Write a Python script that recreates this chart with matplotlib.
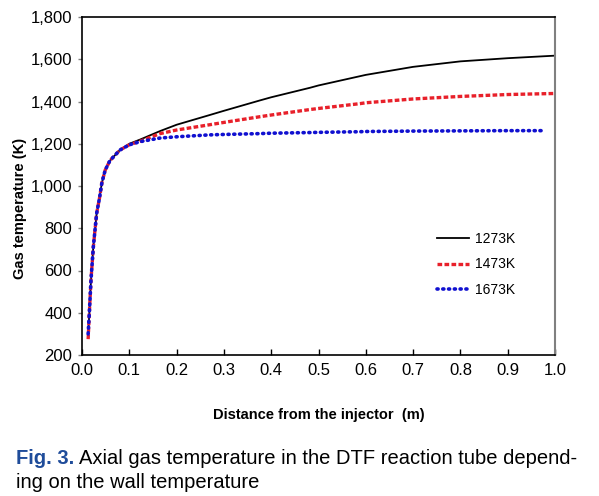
import matplotlib
matplotlib.use("Agg")
import matplotlib.pyplot as plt
from matplotlib.ticker import FuncFormatter

plt.rcParams['font.family'] = ['Liberation Sans', 'DejaVu Sans']

x = [0.013, 0.0155, 0.019, 0.024, 0.031, 0.037, 0.042, 0.049, 0.059, 0.08,
     0.1, 0.123, 0.165, 0.2, 0.27, 0.3, 0.376, 0.4, 0.482, 0.5, 0.588, 0.6,
     0.7, 0.8, 0.9, 1.0]
early = [300, 398, 555, 713, 871, 943, 1015, 1075, 1120, 1170]
t1273 = early + [1200, 1220, 1260, 1290, 1336, 1356, 1405, 1420, 1465, 1476,
                 1520, 1526, 1564, 1590, 1605, 1617]
t1473 = [275] + early[1:] + [1195, 1212, 1248, 1265, 1290, 1301, 1328, 1336,
                             1362, 1367, 1390, 1394, 1412, 1424, 1433, 1438]
t1673 = early + [1195, 1210, 1227, 1233, 1242, 1244, 1248, 1250, 1253, 1254,
                 1257, 1258, 1260, 1261, 1262, 1262]
labels = ["1273K", "1473K", "1673K"]

fig = plt.figure(figsize=(5.99, 4.96), dpi=100)
ax = fig.add_axes([82/599, 1-355/496, 473/599, 338/496])

ax.plot(x, t1273, color='black', lw=1.3, label=labels[0])
ax.plot(x, t1473, color='#e8202a', lw=2.4, ls=(0, (1.4, 0.7)), label=labels[1])
ax.plot(x[:-1] + [0.98], t1673, color='#1010d0', lw=2.6, ls=(0, (0.3, 1.3)),
        dash_capstyle='round', label=labels[2])

ax.set_xlim(0, 1.0)
ax.set_ylim(200, 1800)
ax.set_xticks([i/10 for i in range(11)])
ax.set_yticks(range(200, 1801, 200))
ax.yaxis.set_major_formatter(FuncFormatter(lambda v, p: f"{int(v):,}"))
ax.xaxis.set_major_formatter(FuncFormatter(lambda v, p: f"{v:.1f}"))
ax.tick_params(axis='x', direction='in', length=4, width=1, labelsize=12, pad=6)
ax.tick_params(axis='y', direction='out', length=3, width=1, color='#808080',
               labelsize=12, pad=4)
for s in ['left', 'bottom', 'top']:
    ax.spines[s].set_color('black')
    ax.spines[s].set_linewidth(1.2)
ax.spines['right'].set_color('#808080')
ax.spines['right'].set_linewidth(1.5)

ax.set_xlabel("Distance from the injector  (m)", fontsize=10.5, fontweight='bold',
              labelpad=21)
fig.text(20/599, 1-208/496, "Gas temperature (K)", rotation=90, fontsize=10.5,
         fontweight='bold', ha='center', va='center')

leg = ax.legend(loc='upper left', bbox_to_anchor=(0.725, 0.40), frameon=False,
                fontsize=10, handlelength=2.3, labelspacing=0.8, handletextpad=0.4)

cap_fs = 14.5
t1 = fig.text(16/599, 1-458/496, "Fig. 3.", color='#1f4c9a', fontsize=cap_fs,
              fontweight='bold', va='center')
fig.canvas.draw()
bb = t1.get_window_extent(renderer=fig.canvas.get_renderer())
fig.text((bb.x1 + 5)/599, 1-458/496,
         "Axial gas temperature in the DTF reaction tube depend-",
         fontsize=cap_fs, va='center')
fig.text(16/599, 1-482/496, "ing on the wall temperature", fontsize=cap_fs,
         va='center')

fig.savefig("out.png", dpi=100)
